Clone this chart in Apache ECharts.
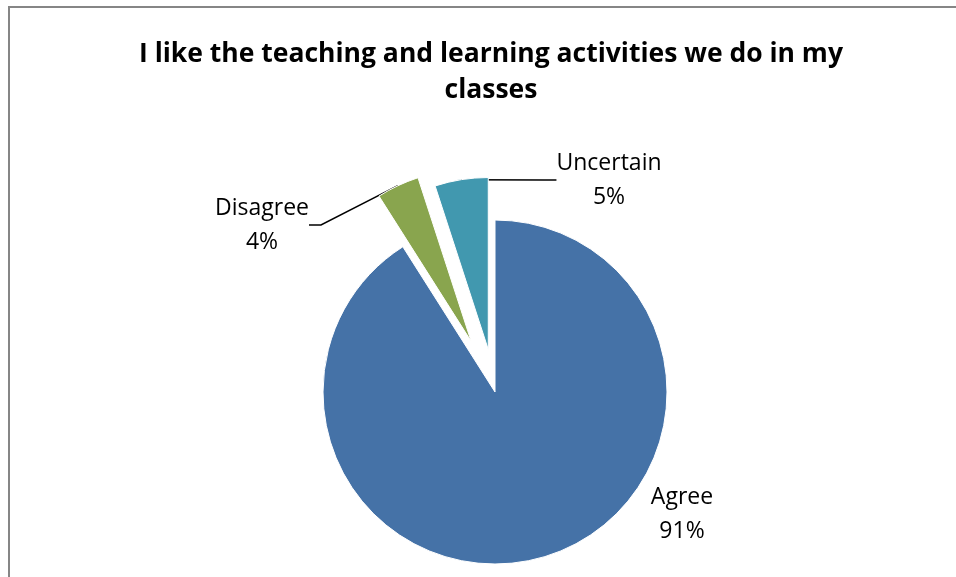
<!DOCTYPE html>
<html>
<head>
<meta charset="utf-8">
<script src="https://cdn.jsdelivr.net/npm/echarts@6/dist/echarts.min.js"></script>
<style>
  html, body { margin: 0; padding: 0; background: #fff; }
  #chart { width: 956px; height: 577px; }
</style>
</head>
<body>
<div id="chart"></div>
<script>
const categories = ['Agree', 'Disagree', 'Uncertain']
const values = [91, 4, 5]
const sliceColors = ['#4572A7', '#89A54E', '#4198AF']

const chart = echarts.init(document.getElementById('chart'))

// pie geometry, explosion distance of each slice
const pieCenter = [495, 392]
const pieRadius = 172
const explodeBy = [0, 56, 43]

// where Excel put each label (centre of the two-line block)
const labelSpots = {
  Agree: [682, 514],
  Disagree: [262, 225],
  Uncertain: [609, 180]
}

const total = values.reduce((a, b) => a + b, 0)
let acc = 0

// one pie per slice so every slice can be pulled out by its own distance
const series = categories.map((name, i) => {
  const mid = (acc + values[i] / 2) / total * Math.PI * 2
  acc += values[i]
  const off = explodeBy[i]
  return {
    type: 'pie',
    name,
    center: [pieCenter[0] + off * Math.sin(mid), pieCenter[1] - off * Math.cos(mid)],
    radius: pieRadius,
    startAngle: 90,
    clockwise: true,
    silent: true,
    emphasis: { disabled: true },
    label: {
      position: 'outside',
      formatter: '{b}\n{d}%',
      fontFamily: 'Open Sans',
      fontSize: 23,
      lineHeight: 34,
      color: '#000'
    },
    labelLine: {
      length: 20,
      length2: 12,
      lineStyle: { color: '#000', width: 1.5 }
    },
    labelLayout: params => {
      const spot = labelSpots[categories[params.dataIndex]]
      return { x: spot[0], y: spot[1], align: 'center', verticalAlign: 'middle' }
    },
    data: categories.map((n, j) => ({
      name: n,
      value: values[j],
      itemStyle: j === i
        ? { color: sliceColors[j], borderColor: '#fff', borderWidth: 1 }
        : { color: 'rgba(0,0,0,0)', borderWidth: 0 },
      label: { show: j === i },
      labelLine: { show: j === i && off > 0 }
    }))
  }
})

const option = {
  animation: false,
  title: {
    text: 'I like the teaching and learning activities we do in my\nclasses',
    left: 486,
    top: 31,
    textAlign: 'center',
    textStyle: {
      fontFamily: 'Open Sans',
      fontWeight: 'bold',
      fontSize: 26.5,
      lineHeight: 36,
      color: '#000'
    }
  },
  graphic: [{
    type: 'rect',
    shape: { x: 9, y: 7, width: 1000, height: 700 },
    style: { fill: 'none', stroke: '#868686', lineWidth: 2 },
    silent: true
  }],
  series
}

chart.setOption(option)
</script>
</body>
</html>
